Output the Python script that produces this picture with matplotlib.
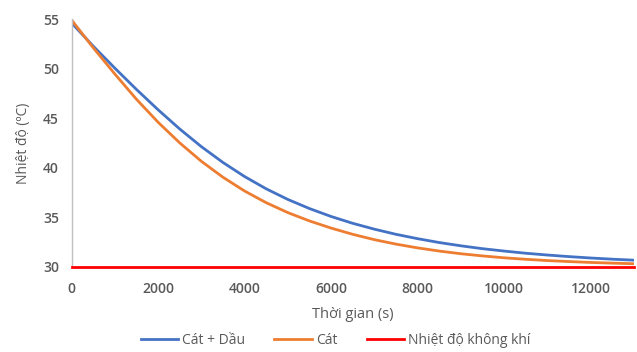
import numpy as np
import matplotlib.pyplot as plt

# Thoi gian (s) va nhiet do doc theo tung 500 s
time_s = np.arange(0, 13001, 500)

cat_dau = [54.6, 52.26, 50.04, 47.89, 45.84, 43.90, 42.12, 40.52, 39.10, 37.86,
           36.79, 35.87, 35.07, 34.38, 33.79, 33.27, 32.83, 32.44, 32.11, 31.82,
           31.58, 31.36, 31.18, 31.02, 30.88, 30.76, 30.66]
cat = [54.9, 52.10, 49.45, 46.90, 44.58, 42.50, 40.64, 39.03, 37.64, 36.46,
       35.46, 34.62, 33.90, 33.27, 32.73, 32.28, 31.90, 31.58, 31.31, 31.09,
       30.90, 30.75, 30.62, 30.52, 30.43, 30.36, 30.30]
khong_khi = [30.0] * len(time_s)

plt.rcParams['font.family'] = ['Open Sans', 'DejaVu Sans']
text_color = '#595959'

fig = plt.figure(figsize=(6.37, 3.52), dpi=100)
ax = fig.add_axes([0.1124, 0.2423, 0.8826, 0.7037])

ax.plot(time_s, cat_dau, color='#4472C4', lw=2.0, label='Cát + Dầu')
ax.plot(time_s, cat, color='#ED7D31', lw=2.0, label='Cát')
ax.plot(time_s, khong_khi, color='#FF0000', lw=2.0, label='Nhiệt độ không khí',
        clip_on=False, zorder=5)

ax.set_xlim(0, 13000)
ax.set_ylim(30, 55)
ax.set_xticks(range(0, 13000, 2000))
ax.set_yticks(range(30, 56, 5))

for side in ['top', 'right', 'bottom']:
    ax.spines[side].set_visible(False)
ax.spines['left'].set_color('#BFBFBF')
ax.spines['left'].set_linewidth(1.0)
ax.tick_params(axis='y', length=0, labelsize=10, labelcolor=text_color, pad=9)
ax.tick_params(axis='x', length=0, labelsize=10, labelcolor=text_color, pad=11)
for lbl in ax.get_xticklabels() + ax.get_yticklabels():
    lbl.set_fontweight('semibold')

ax.set_xlabel('Thời gian (s)', fontsize=10.5, color=text_color, labelpad=8)
ax.set_ylabel('Nhiệt độ (ºC)', fontsize=10, color=text_color, labelpad=9)

leg = fig.legend(loc='lower center', bbox_to_anchor=(0.527, -0.025), ncol=3,
                 frameon=False, fontsize=10, handlelength=2.7,
                 columnspacing=2.1, handletextpad=0.3)
for t in leg.get_texts():
    t.set_color(text_color)

fig.savefig('out.png', dpi=100)
